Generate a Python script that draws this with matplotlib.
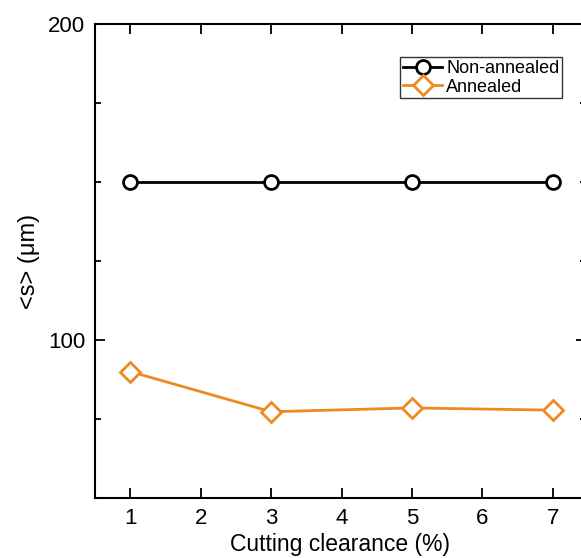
import matplotlib.pyplot as plt
from matplotlib.ticker import MultipleLocator

plt.rcParams['font.family'] = ['Liberation Sans', 'DejaVu Sans']

# data
clearance = [1, 3, 5, 7]
non_annealed = [150, 150, 150, 150]
annealed = [90, 77.3, 78.5, 77.8]

fig = plt.figure(figsize=(5.81, 5.58), dpi=100)
# axes runs just past the right edge of the image, as in the reference
ax = fig.add_axes([95 / 581, 60 / 558, (586 - 95) / 581, (498 - 24) / 558])

ax.plot(clearance, non_annealed, color='black', lw=2, marker='o', ms=10,
        mfc='white', mec='black', mew=2, label='Non-annealed')
ax.plot(clearance, annealed, color='#ef8a22', lw=2, marker='D', ms=10,
        mfc='white', mec='#ef8a22', mew=2, label='Annealed')

ax.set_xlim(0.5, 7.47)
ax.set_ylim(50, 200)
ax.xaxis.set_major_locator(MultipleLocator(1))
ax.yaxis.set_major_locator(MultipleLocator(100))
ax.yaxis.set_minor_locator(MultipleLocator(25))
ax.tick_params(which='both', direction='in', top=True, right=True, labelsize=16, width=1.3)
ax.tick_params(which='major', length=7, pad=7)
ax.tick_params(which='minor', length=4)
for s in ax.spines.values():
    s.set_linewidth(1.5)

ax.set_xlabel('Cutting clearance (%)', fontsize=16.5, labelpad=3)
ax.set_ylabel('<s> (μm)', fontsize=17, labelpad=6)

leg = ax.legend(loc='upper left', bbox_to_anchor=(305 / 491, 0.93), fontsize=13,
                handlelength=2.2, handletextpad=0.2, borderpad=0.15, labelspacing=0.1,
                fancybox=False, edgecolor='black', borderaxespad=0)
leg.get_frame().set_linewidth(1)

plt.savefig('out.png', dpi=100)
